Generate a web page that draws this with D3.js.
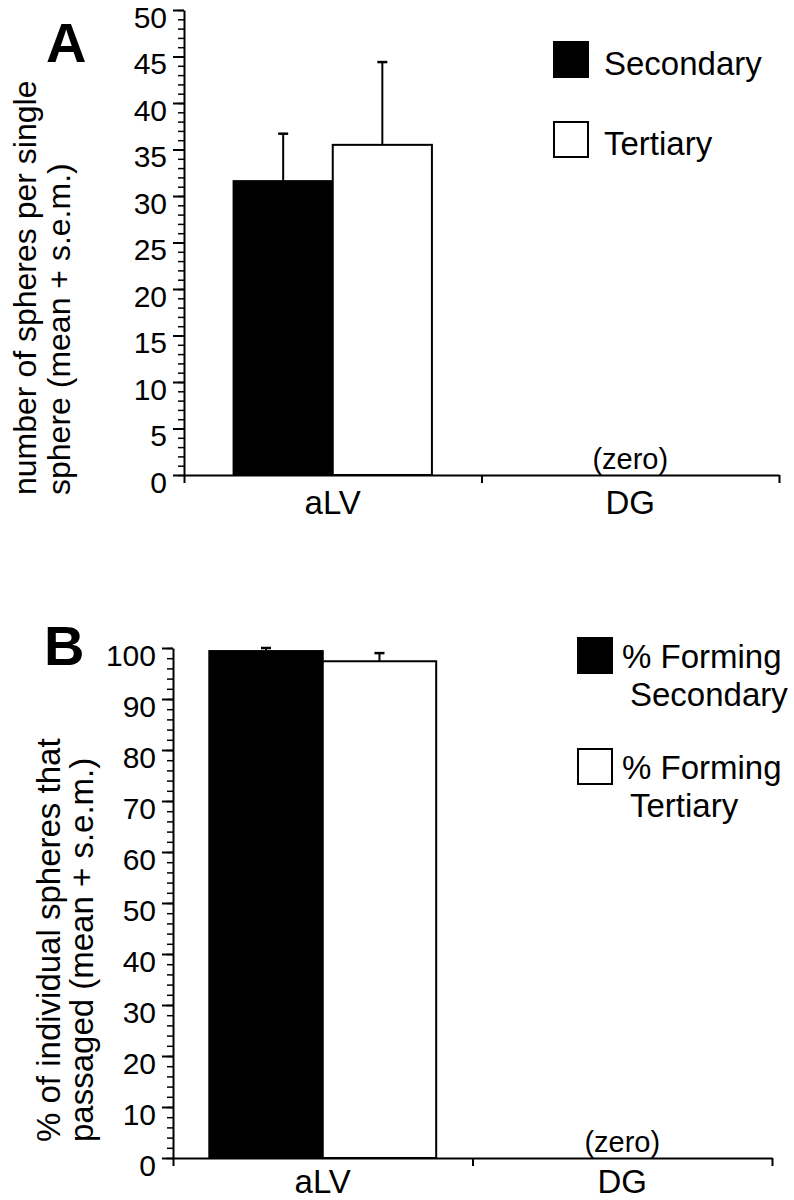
<!DOCTYPE html>
<html><head><meta charset="utf-8">
<script src="https://cdn.jsdelivr.net/npm/d3@7"></script>
<style>
body{margin:0;background:#fff}
svg{display:block}
text{font-family:"Liberation Sans", Arial, Helvetica, sans-serif; fill:#000}
</style>
</head><body><svg id="c" width="794" height="1200"></svg>
<script>
// ---------- data ----------
const categories = ["aLV", "DG"];
const legendA = [["Secondary"], ["Tertiary"]];
const legendB = [["% Forming", "Secondary"], ["% Forming", "Tertiary"]];
const secondaryA = [31.6, 0];
const tertiaryA = [35.5, 0];
const secondaryErrA = [5.1, 0];
const tertiaryErrA = [8.9, 0];
const secondaryB = [99.4, 0];
const tertiaryB = [97.4, 0];
const secondaryErrB = [0.6, 0];
const tertiaryErrB = [1.6, 0];
const yTicksA = [0, 5, 10, 15, 20, 25, 30, 35, 40, 45, 50];
const yTicksB = [0, 10, 20, 30, 40, 50, 60, 70, 80, 90, 100];
const zeroNote = ["", "(zero)"];
const yTitleA = ["number of spheres per single", "sphere (mean + s.e.m.)"];
const yTitleB = ["% of individual spheres that", "passaged (mean + s.e.m.)"];

const svg = d3.select("#c");
svg.append("rect").attr("width", 794).attr("height", 1200).attr("fill", "#fff");

function panel(o) {
  const g = svg.append("g");
  const x = d3.scaleBand().domain(categories).range([o.left, o.right]).paddingInner(0).paddingOuter(0);
  const xs = d3.scaleBand().domain([0, 1]).range([0, x.bandwidth()]).paddingInner(0).paddingOuter(o.outer);
  const y = d3.scaleLinear().domain([0, o.max]).range([o.bottom, o.top]);

  const rows = [];
  categories.forEach((c, i) => {
    rows.push({c, s: 0, v: o.sec[i], e: o.secErr[i]});
    rows.push({c, s: 1, v: o.ter[i], e: o.terErr[i]});
  });
  const drawn = rows.filter(d => d.v > 0);

  // error bars
  const eb = g.append("g").attr("stroke", "#000").attr("stroke-width", 2);
  drawn.forEach(d => {
    const cx = x(d.c) + xs(d.s) + xs.bandwidth() / 2;
    eb.append("line").attr("x1", cx).attr("x2", cx).attr("y1", y(d.v)).attr("y2", y(d.v + d.e));
    eb.append("line").attr("x1", cx - 5).attr("x2", cx + 5).attr("y1", y(d.v + d.e)).attr("y2", y(d.v + d.e)).attr("stroke-width", 2.5);
  });

  g.append("g").selectAll("rect").data(drawn).join("rect")
    .attr("x", d => x(d.c) + xs(d.s))
    .attr("y", d => y(d.v))
    .attr("width", xs.bandwidth())
    .attr("height", d => y(0) - y(d.v))
    .attr("fill", d => d.s === 0 ? "#000" : "#fff")
    .attr("stroke", "#000").attr("stroke-width", 2);

  // y axis minor ticks
  const minor = d3.range(0, o.max + 0.001, o.minorStep);
  g.append("g").attr("transform", `translate(${o.left},0)`)
    .call(d3.axisLeft(y).tickValues(minor).tickSize(6).tickSizeOuter(0).tickFormat(""))
    .call(a => a.select(".domain").attr("stroke-width", 2))
    .call(a => a.selectAll(".tick line").attr("stroke-width", 1.5));
  // y axis major ticks
  g.append("g").attr("transform", `translate(${o.left},0)`)
    .call(d3.axisLeft(y).tickValues(o.ticks).tickSize(11).tickSizeOuter(0).tickPadding(6))
    .call(a => a.select(".domain").remove())
    .call(a => a.selectAll(".tick line").attr("stroke-width", 2))
    .call(a => a.selectAll(".tick text").attr("font-size", o.tickFont).attr("dy", "0.58em")
      .attr("font-family", "Liberation Sans, Arial, sans-serif").attr("fill", "#000"));

  // x axis line with boundary ticks
  const xb = d3.scaleLinear().domain([0, categories.length]).range([o.left, o.right]);
  g.append("g").attr("transform", `translate(0,${o.bottom})`)
    .call(d3.axisBottom(xb).tickValues(d3.range(0, categories.length + 1)).tickSize(8).tickSizeOuter(0).tickFormat(""))
    .call(a => a.select(".domain").attr("stroke-width", 2))
    .call(a => a.selectAll(".tick line").attr("stroke-width", 2));
  // category labels
  g.append("g").attr("transform", `translate(0,${o.bottom})`)
    .call(d3.axisBottom(x).tickSize(0).tickPadding(o.labelPad))
    .call(a => a.select(".domain").remove())
    .call(a => a.selectAll(".tick text").attr("font-size", o.catFont)
      .attr("font-family", "Liberation Sans, Arial, sans-serif").attr("fill", "#000"));

  // zero notes
  g.append("g").selectAll("text").data(categories).join("text")
    .attr("x", c => x(c) + x.bandwidth() / 2)
    .attr("y", y(0) - 6)
    .attr("text-anchor", "middle")
    .attr("font-size", 29)
    .text((c, i) => zeroNote[i]);

  // y title
  o.title.forEach((t, i) => {
    g.append("text")
      .attr("transform", `translate(${o.titleX[i]},${o.titleY}) rotate(-90)`)
      .attr("text-anchor", "start")
      .attr("font-size", o.titleFont)
      .text(t);
  });

  // panel letter
  g.append("text").attr("x", o.letterX).attr("y", o.letterY)
    .attr("font-size", 56).attr("font-weight", "bold").text(o.letter);

  // legend
  o.legend.forEach((lines, i) => {
    const ly = o.legY[i];
    g.append("rect").attr("x", o.legX).attr("y", ly).attr("width", 34).attr("height", 35)
      .attr("fill", i === 0 ? "#000" : "#fff").attr("stroke", "#000").attr("stroke-width", 2);
    lines.forEach((t, j) => {
      g.append("text").attr("x", o.legX + o.legTextDx[j]).attr("y", ly + o.legBase + j * 38)
        .attr("font-size", 33).text(t);
    });
  });
}

panel({
  left: 184, right: 779, top: 10, bottom: 475, max: 50, minorStep: 1,
  ticks: yTicksA, tickFont: 30, catFont: 33, labelPad: 16, outer: 0.5,
  sec: secondaryA, ter: tertiaryA, secErr: secondaryErrA, terErr: tertiaryErrA,
  title: yTitleA, titleX: [36, 70], titleY: 495, titleFont: 32,
  letter: "A", letterX: 46, letterY: 62,
  legend: legendA, legX: 554, legY: [42, 122], legTextDx: [50], legBase: 33
});

panel({
  left: 173, right: 772, top: 648, bottom: 1158, max: 100, minorStep: 2,
  ticks: yTicksB, tickFont: 30, catFont: 33, labelPad: 12, outer: 0.32,
  sec: secondaryB, ter: tertiaryB, secErr: secondaryErrB, terErr: tertiaryErrB,
  title: yTitleB, titleX: [60, 93], titleY: 1142, titleFont: 33,
  letter: "B", letterX: 44, letterY: 665,
  legend: legendB, legX: 578, legY: [638, 749], legTextDx: [44, 52], legBase: 30
});
</script>
</body></html>
